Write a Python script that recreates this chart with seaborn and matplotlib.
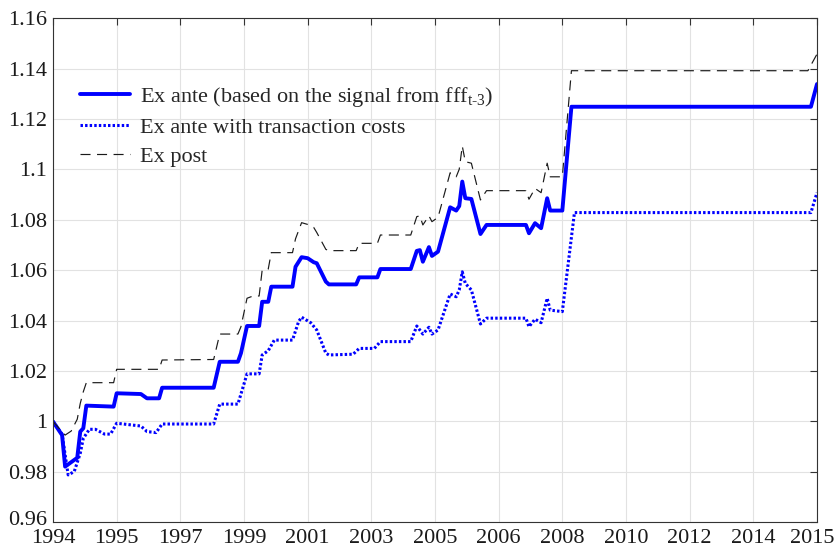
import numpy as np
import pandas as pd
import matplotlib
matplotlib.use("Agg")
import matplotlib.pyplot as plt
import matplotlib.transforms as mtransforms
from matplotlib.ticker import FixedLocator, FuncFormatter
import seaborn as sns

# Cumulative gross return of the strategies, indexed by observation number
n_obs = 252
year_labels = ["1994", "1995", "1997", "1999", "2001", "2003", "2005",
               "2006", "2008", "2010", "2012", "2014", "2015"]

ex_ante_t = [0, 3, 4, 8, 9, 10, 11, 20, 21, 29, 31, 35, 36, 53, 55, 61, 62, 64,
             68, 69, 71, 72, 79, 80, 82, 84, 86, 87, 90, 91, 100, 101, 107, 108,
             118, 120, 121, 122, 124, 125, 127, 131, 133, 134, 135, 136, 138,
             141, 143, 156, 157, 159, 161, 163, 164, 168, 171, 250, 252]
ex_ante_v = [1.0000, 0.9946, 0.9821, 0.9856, 0.9960, 0.9973, 1.0063, 1.0059,
             1.0112, 1.0109, 1.0092, 1.0092, 1.0134, 1.0134, 1.0237, 1.0237,
             1.0271, 1.0379, 1.0379, 1.0475, 1.0475, 1.0535, 1.0535, 1.0614,
             1.0652, 1.0648, 1.0632, 1.0628, 1.0555, 1.0544, 1.0544, 1.0572,
             1.0572, 1.0605, 1.0605, 1.0677, 1.0680, 1.0634, 1.0692, 1.0657,
             1.0674, 1.0850, 1.0837, 1.0855, 1.0952, 1.0886, 1.0883, 1.0744,
             1.0780, 1.0780, 1.0747, 1.0787, 1.0767, 1.0886, 1.0837, 1.0837,
             1.1249, 1.1249, 1.1339]

ex_ante_tc_t = [0, 3, 5, 7, 9, 10, 12, 14, 17, 19, 21, 29, 31, 34, 36, 53, 55,
                61, 64, 68, 69, 71, 73, 79, 81, 82, 85, 87, 90, 91, 99, 101,
                106, 108, 118, 120, 121, 122, 124, 125, 127, 131, 133, 134, 135,
                136, 138, 141, 143, 156, 157, 159, 161, 163, 164, 168, 172, 250,
                252]
ex_ante_tc_v = [1.0000, 0.9950, 0.9788, 0.9801, 0.9874, 0.9933, 0.9969, 0.9969,
                0.9950, 0.9950, 0.9993, 0.9982, 0.9960, 0.9956, 0.9990, 0.9990,
                1.0069, 1.0069, 1.0189, 1.0189, 1.0264, 1.0281, 1.0323, 1.0323,
                1.0396, 1.0414, 1.0392, 1.0363, 1.0271, 1.0264, 1.0267, 1.0290,
                1.0290, 1.0317, 1.0317, 1.0379, 1.0363, 1.0347, 1.0374, 1.0347,
                1.0363, 1.0506, 1.0495, 1.0522, 1.0594, 1.0548, 1.0522, 1.0387,
                1.0410, 1.0410, 1.0376, 1.0406, 1.0392, 1.0489, 1.0442, 1.0436,
                1.0829, 1.0829, 1.0908]

ex_post_t = [0, 4, 6, 8, 9, 10, 11, 20, 21, 35, 36, 53, 55, 61, 62, 64, 66, 68,
             69, 71, 72, 79, 80, 82, 84, 86, 87, 90, 91, 100, 101, 107, 108, 118,
             120, 121, 122, 124, 125, 127, 131, 133, 134, 135, 136, 138, 141,
             143, 156, 157, 159, 161, 163, 164, 168, 171, 249, 252]
ex_post_v = [1.0000, 0.9946, 0.9962, 1.0009, 1.0072, 1.0118, 1.0154, 1.0154,
             1.0207, 1.0207, 1.0244, 1.0246, 1.0347, 1.0347, 1.0376, 1.0489,
             1.0498, 1.0498, 1.0601, 1.0605, 1.0670, 1.0670, 1.0725, 1.0789,
             1.0782, 1.0770, 1.0750, 1.0683, 1.0678, 1.0678, 1.0707, 1.0707,
             1.0740, 1.0740, 1.0813, 1.0816, 1.0780, 1.0816, 1.0793, 1.0810,
             1.0987, 1.0971, 1.1001, 1.1093, 1.1031, 1.1025, 1.0879, 1.0916,
             1.0916, 1.0882, 1.0925, 1.0908, 1.1025, 1.0971, 1.0971, 1.1392,
             1.1392, 1.1458]

y_ticks = [0.96, 0.98, 1.00, 1.02, 1.04, 1.06, 1.08, 1.10, 1.12, 1.14, 1.16]

sns.set_style("white")
plt.rcParams["font.family"] = ["Liberation Serif", "DejaVu Serif"]
plt.rcParams["mathtext.fontset"] = "custom"
plt.rcParams["mathtext.rm"] = "Liberation Serif"
plt.rcParams["mathtext.it"] = "Liberation Serif"

fig = plt.figure(figsize=(8.37, 5.51), dpi=100)
ax = fig.add_axes([0.0633, 0.0521, 0.9128, 0.9147])

sns.lineplot(x=ex_ante_t, y=ex_ante_v, ax=ax, color="#0000ff", lw=2.8,
             label=r"Ex ante (based on the signal from fff$_{\text{t-3}}$)")
sns.lineplot(x=ex_ante_tc_t, y=ex_ante_tc_v, ax=ax, color="#0000ff", lw=2.2,
             linestyle=(0, (0.8, 0.7)), label="Ex ante with transaction costs")
sns.lineplot(x=ex_post_t, y=ex_post_v, ax=ax, color="#1a1a1a", lw=0.85,
             linestyle=(0, (8.5, 5.5)), label="Ex post")

ax.set_xlim(0, n_obs)
ax.set_ylim(0.96, 1.16)
ax.xaxis.set_major_locator(FixedLocator(np.linspace(0, n_obs, len(year_labels))))
ax.set_xticklabels(year_labels)
ax.yaxis.set_major_locator(FixedLocator(y_ticks))
ax.yaxis.set_major_formatter(FuncFormatter(lambda v, _: f"{round(v, 2):g}"))
ax.set_xlabel("")
ax.set_ylabel("")

ax.grid(True, color="#e2e2e2", lw=0.8)
ax.set_axisbelow(True)
ax.tick_params(direction="in", top=True, right=True, length=5, width=0.8,
               color="#333333", labelsize=16, labelcolor="#1a1a1a", pad=4)
ax.tick_params(axis="x", pad=5)
for s in ax.spines.values():
    s.set_visible(True)
    s.set_color("#333333")
    s.set_linewidth(0.8)

# nudge the corner labels so they stay clear of each other and the edge
last = ax.get_xticklabels()[-1]
last.set_transform(last.get_transform() +
                   mtransforms.ScaledTranslation(-5 / 100, 0, fig.dpi_scale_trans))
first_y = ax.get_yticklabels()[0]
first_y.set_transform(first_y.get_transform() +
                      mtransforms.ScaledTranslation(0, 4 / 100, fig.dpi_scale_trans))

ax.legend(loc="upper left", bbox_to_anchor=(0.035, 0.868), frameon=False,
          fontsize=16, handlelength=2.25, handletextpad=0.45, labelspacing=0.38,
          borderpad=0, borderaxespad=0)

fig.savefig("out.png", dpi=100)
